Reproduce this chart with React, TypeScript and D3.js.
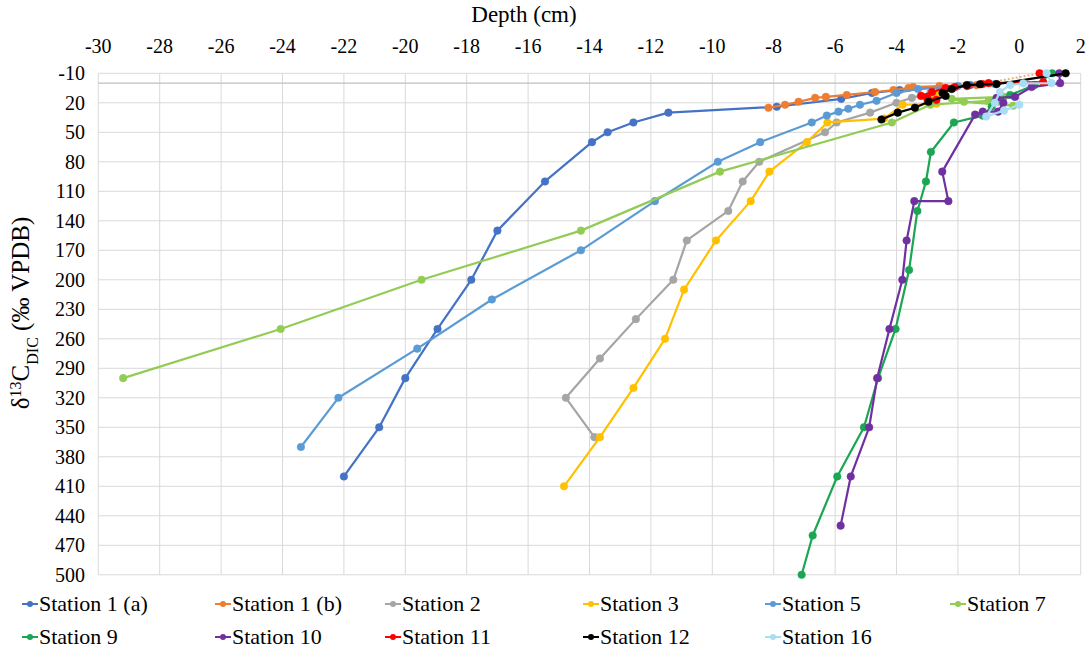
import React from 'react';
import * as d3 from 'd3';

type Pt = [number, number];

const xTicks: number[] = d3.range(-30, 3, 2);
const yTicks: number[] = d3.range(-10, 501, 30);

const stationNames: string[] = [
  'Station 1 (a)', 'Station 1 (b)', 'Station 2', 'Station 3', 'Station 5', 'Station 7',
  'Station 9', 'Station 10', 'Station 11', 'Station 12', 'Station 16',
];
const stationColors: string[] = [
  '#4472C4', '#ED7D31', '#A5A5A5', '#FFC000', '#5B9BD5', '#92CC55',
  '#1AA653', '#7030A0', '#FF0000', '#000000', '#A8DDF5',
];

const station1a: Pt[] = [
  [-22.0, 400], [-20.85, 350], [-20.0, 300], [-18.95, 250], [-17.85, 200], [-17.0, 150],
  [-15.45, 100], [-13.92, 60], [-13.41, 50], [-12.57, 40], [-11.43, 30], [-7.9, 24],
  [-5.8, 16], [-4.8, 10], [-3.9, 7], [-2.6, 4], [-1.6, 2],
];
const station1b: Pt[] = [
  [-8.17, 25], [-7.63, 22], [-7.19, 19], [-6.65, 15], [-6.3, 14], [-5.62, 12], [-4.7, 9],
  [-4.1, 7], [-3.61, 5], [-3.46, 4], [-2.6, 3], [-1.4, 2],
];
const station1bDotted: Pt[] = [[-1.4, 2], [0.66, -10]];
const station2: Pt[] = [
  [-13.84, 360], [-14.77, 320], [-13.66, 280], [-12.49, 240], [-11.27, 200], [-10.83, 160],
  [-9.48, 130], [-9.01, 100], [-8.47, 80], [-6.33, 50], [-5.95, 40], [-4.86, 30], [-4.0, 20],
  [-3.5, 15], [-2.9, 10], [-2.4, 5],
];
const station3: Pt[] = [
  [-14.83, 410], [-13.66, 360], [-12.57, 310], [-11.54, 260], [-10.92, 210], [-9.88, 160],
  [-8.75, 120], [-8.14, 90], [-6.92, 60], [-6.25, 40], [-4.4, 36], [-3.8, 22], [-2.7, 21],
  [-3.0, 17], [-2.7, 12],
];
const station5: Pt[] = [
  [-23.4, 370], [-22.18, 320], [-19.61, 270], [-17.18, 220], [-14.28, 170], [-11.87, 120],
  [-9.82, 80], [-8.44, 60], [-6.76, 40], [-6.27, 33], [-5.89, 29], [-5.57, 26], [-5.19, 22],
  [-4.65, 18], [-4.0, 10], [-3.3, 6], [-2.0, 3], [-0.8, 1],
];
const station7: Pt[] = [
  [-29.19, 300], [-24.06, 250], [-19.47, 200], [-14.28, 150], [-9.75, 90], [-4.15, 40],
  [-2.9, 22], [-1.0, 18], [-0.2, 23], [-1.8, 19], [-2.2, 16], [-0.5, 14],
];
const station9: Pt[] = [
  [-7.09, 500], [-6.73, 460], [-5.93, 400], [-5.06, 350], [-4.6, 300], [-4.03, 250],
  [-3.59, 190], [-3.32, 130], [-3.04, 100], [-2.88, 70], [-2.13, 40], [-1.2, 33], [-0.9, 24],
  [-0.8, 19], [-0.3, 12], [0.5, 2], [1.07, -10],
];
const station10: Pt[] = [
  [-5.82, 450], [-5.49, 400], [-4.89, 350], [-4.63, 300], [-4.23, 250], [-3.81, 200],
  [-3.67, 160], [-3.42, 120], [-2.31, 120], [-2.51, 90], [-1.44, 32], [-1.19, 29], [-0.69, 29],
  [-0.52, 20], [-0.74, 15], [-0.14, 14], [0.4, 4], [1.33, 0], [1.3, -10],
];
const station11: Pt[] = [
  [0.66, -10], [0.78, -1], [-1.0, 0], [-1.2, 1], [-1.7, 3], [-2.1, 4], [-2.4, 5], [-2.84, 9],
  [-3.2, 13], [-3.0, 15], [-2.7, 17],
];
const station12: Pt[] = [
  [1.51, -10], [-0.74, 1], [-1.28, 1.2], [-1.71, 2], [-2.2, 6], [-2.5, 10], [-2.4, 13],
  [-2.96, 19], [-3.4, 25], [-3.96, 30], [-4.49, 37],
];
const station16: Pt[] = [
  [0.89, -10], [1.05, 0], [0.13, 0.2], [-0.3, 2], [-0.63, 9], [-0.8, 20], [-1.08, 34],
  [-0.5, 28], [0.0, 22],
];

const allSeries: Pt[][] = [
  station1a, station1b, station2, station3, station5, station7,
  station9, station10, station11, station12, station16,
];

const W = 1089;
const H = 654;
const FONT = "'Liberation Serif', 'DejaVu Serif', serif";

export default function App() {
  const x = d3.scaleLinear().domain([-30, 2]).range([98.3, 1080.7]);
  const y = d3.scaleLinear().domain([-10, 500]).range([73.3, 574.8]);
  const line = d3.line<Pt>().x((d) => x(d[0])).y((d) => y(d[1]));

  const legendCols = [22, 215, 385, 583, 765, 950];
  const legendRows = [604, 637];
  const ts = { fontFamily: FONT };

  return (
    <svg width={W} height={H} style={{ position: 'absolute', left: 0, top: 0, background: '#fff', fontFamily: FONT }}>
      <rect x={0} y={0} width={W} height={H} fill="#fff" />
      {xTicks.map((t) => (
        <line key={'gx' + t} x1={x(t)} x2={x(t)} y1={y(-10)} y2={y(500)} stroke="#d9d9d9" strokeWidth={1} />
      ))}
      {yTicks.map((t) => (
        <line key={'gy' + t} x1={x(-30)} x2={x(2)} y1={y(t)} y2={y(t)} stroke="#d9d9d9" strokeWidth={1} />
      ))}
      <line x1={x(-30)} x2={x(2)} y1={y(0)} y2={y(0)} stroke="#bfbfbf" strokeWidth={1.3} />
      {xTicks.map((t) => (
        <text key={'tx' + t} x={x(t)} y={53} textAnchor="middle" fontSize={20} fill="#000" style={ts}>
          {t}
        </text>
      ))}
      {yTicks.map((t) => (
        <text key={'ty' + t} x={85} y={y(t) + 7} textAnchor="end" fontSize={20} fill="#000" style={ts}>
          {t}
        </text>
      ))}
      <text x={524} y={22} textAnchor="middle" fontSize={23} fill="#000" style={ts}>Depth (cm)</text>
      <text transform={`translate(29, ${313}) rotate(-90)`} textAnchor="middle" fontSize={25} fill="#000" style={ts}>
        δ<tspan baselineShift="super" fontSize={16}>13</tspan>
        <tspan>C</tspan>
        <tspan baselineShift="sub" fontSize={16}>DIC</tspan>
        <tspan> (‰ VPDB)</tspan>
      </text>
      {allSeries.map((s, i) => (
        <g key={'s' + i}>
          <path d={line(s) || ''} fill="none" stroke={stationColors[i]} strokeWidth={2.2} strokeLinejoin="round" />
          {i === 1 && (
            <path d={line(station1bDotted) || ''} fill="none" stroke="#E8B07A" strokeWidth={2} strokeDasharray="2 2" />
          )}
          {s.map((d, j) => (
            <circle key={j} cx={x(d[0])} cy={y(d[1])} r={3.8} fill={stationColors[i]} stroke={stationColors[i]} strokeWidth={0.5} />
          ))}
        </g>
      ))}
      {stationNames.map((name, i) => {
        const col = i < 6 ? i : i - 6;
        const row = i < 6 ? 0 : 1;
        const lx = legendCols[col];
        const ly = legendRows[row];
        return (
          <g key={'lg' + i}>
            <line x1={lx} x2={lx + 16} y1={ly} y2={ly} stroke={stationColors[i]} strokeWidth={2} />
            <circle cx={lx + 8} cy={ly} r={3} fill={stationColors[i]} />
            <text x={lx + 17} y={ly + 7} fontSize={22} fill="#000" style={ts}>{name}</text>
          </g>
        );
      })}
    </svg>
  );
}
